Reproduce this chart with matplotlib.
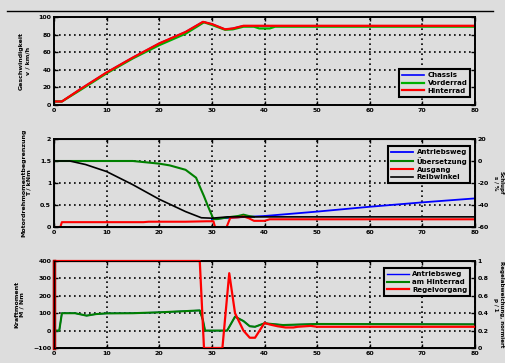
"""Simulation result: speed, engine torque limit and control torque over time."""
import matplotlib
matplotlib.use("Agg")
import matplotlib.pyplot as plt
from matplotlib.lines import Line2D

BG = "#dddddd"

# --- top panel: speed ---
t_speed_rear = [0, 1.5, 5, 10, 15, 20, 25, 28.3, 30, 32.5, 34, 36, 80]
speed_rear = [4, 4, 18, 37, 54, 70, 83, 94.5, 92, 86, 87, 90, 90]
t_speed_front = [0, 1.5, 5, 10, 15, 20, 25, 28.5, 30, 32.5, 34, 36, 38, 39, 41, 42, 80]
speed_front = [4, 4, 17, 36, 53, 68, 81, 94, 91, 85.5, 86, 89, 89, 87, 87, 89, 89]
speed_labels = ["Chassis", "Vorderrad", "Hinterrad"]

# --- middle panel: torque limit ---
t_black = [0, 3, 6, 10, 15, 20, 25, 28, 30, 33, 80]
v_black = [1.5, 1.5, 1.42, 1.26, 0.96, 0.63, 0.35, 0.21, 0.2, 0.23, 0.23]
t_green = [0, 15, 20, 22, 25, 27, 27.7, 28.5, 29.3, 30.3, 31, 33, 35, 36, 37, 38]
v_green = [1.5, 1.5, 1.44, 1.4, 1.3, 1.12, 0.92, 0.7, 0.46, 0.18, 0.18, 0.22, 0.25, 0.28, 0.25, 0.23]
t_blue = [30, 32, 35, 40, 50, 60, 70, 80]
v_blue = [0.18, 0.2, 0.22, 0.25, 0.35, 0.46, 0.56, 0.65]
t_red = [0, 1.2, 1.5, 10, 17, 18, 25, 29, 30.3, 30.6, 32.8, 33.5, 35, 36, 37, 38, 40, 41, 80]
v_red = [0, 0, 0.11, 0.11, 0.11, 0.12, 0.12, 0.13, 0.13, 0, 0, 0.21, 0.22, 0.24, 0.2, 0.14, 0.14, 0.175, 0.175]
torque_labels = ["Antriebsweg", "Übersetzung", "Ausgang", "Reibwinkel"]

# --- bottom panel: control torque ---
t_ctrl = [0, 0, 27.7, 28.5, 32.0, 33.3, 34.4, 36.0, 37.2, 38.2, 40, 41, 42.5, 44, 45.5, 46.3, 48.8, 50, 80]
v_ctrl = [-100, 400, 400, -100, -100, 330, 100, 0, -41, -41, 44, 35, 25, 18, 18, 22, 27, 22, 22]
t_wheel = [0, 1, 1.5, 4, 6.2, 8, 10, 15, 20, 25, 27.7, 28.3, 28.7, 32.9, 34.4, 36, 37.2, 38.2, 40, 43.5, 50, 80]
v_wheel = [0, 0, 100, 100, 86, 95, 99, 100, 105, 112, 116, 60, 0, 0, 80, 55, 25, 22, 42, 32, 38, 36]
ctrl_labels = ["Antriebsweg", "am Hinterrad", "Regelvorgang"]

x_ticks = list(range(0, 81, 10))

plt.rcParams["font.family"] = ["DejaVu Sans"]
plt.rcParams["font.weight"] = "bold"
plt.rcParams["font.size"] = 4.5

fig = plt.figure(figsize=(5.05, 3.63), dpi=100, facecolor=BG)
W, H = 505.0, 363.0


def make_axes(top, bottom):
    return fig.add_axes([54 / W, 1 - bottom / H, (475 - 54) / W, (bottom - top) / H])


def style(ax, both_sides=True):
    ax.set_facecolor(BG)
    ax.set_xlim(0, 80)
    ax.set_xticks(x_ticks)
    ax.grid(True, color="black", linestyle=(0, (1, 2)), linewidth=1.2)
    for s in ax.spines.values():
        s.set_linewidth(1.4)
    ax.tick_params(direction="in", length=3, width=1.0, pad=2,
                   top=True, right=both_sides, labelsize=4.5)
    for lab in ax.get_xticklabels() + ax.get_yticklabels():
        lab.set_fontweight("bold")


def legend(ax, handles, labels, loc, anchor):
    leg = ax.legend(handles, labels, loc=loc, bbox_to_anchor=anchor, fontsize=5,
                    fancybox=False, framealpha=1, facecolor=BG, edgecolor="black",
                    handlelength=3.2, borderpad=0.4, labelspacing=0.25, handletextpad=0.5)
    leg.get_frame().set_linewidth(1.5)
    for txt in leg.get_texts():
        txt.set_fontweight("bold")
    return leg


def right_axis(ax, ylim, ticks, ticklabels, label):
    axr = ax.twinx()
    axr.set_ylim(*ylim)
    axr.set_yticks(ticks)
    axr.set_yticklabels(ticklabels)
    axr.tick_params(direction="in", length=3, width=1.0, pad=2, labelsize=4.5)
    axr.set_ylabel(label, fontsize=4, fontweight="bold", rotation=270,
                   va="bottom", labelpad=3)
    for lab in axr.get_yticklabels():
        lab.set_fontweight("bold")
    return axr


# top
ax1 = make_axes(17, 105)
h1, = ax1.plot(t_speed_rear, speed_rear, color="#0000ff", lw=1.2)
h2, = ax1.plot(t_speed_front, speed_front, color="#00b000", lw=1.6)
h3, = ax1.plot(t_speed_rear, speed_rear, color="#ff0000", lw=1.6)
ax1.set_ylim(0, 100)
ax1.set_yticks(range(0, 101, 20))
style(ax1)
ax1.set_ylabel("Geschwindigkeit\nv / km/h", fontsize=4.5, fontweight="bold", labelpad=6)
legend(ax1, [h1, h2, h3], speed_labels, "lower right", (0.997, 0.057))

# middle
ax2 = make_axes(139, 227)
b1, = ax2.plot(t_blue, v_blue, color="#0000ff", lw=1.3)
g1, = ax2.plot(t_green, v_green, color="#008000", lw=1.5)
r1, = ax2.plot(t_red, v_red, color="#ff0000", lw=1.5)
k1, = ax2.plot(t_black, v_black, color="black", lw=1.2)
ax2.set_ylim(0, 2)
ax2.set_yticks([0, 0.5, 1, 1.5, 2])
ax2.set_yticklabels(["0", "0.5", "1", "1.5", "2"])
style(ax2, both_sides=False)
ax2.set_ylabel("Motordrehmomentbegrenzung\nT / kNm", fontsize=4.5, fontweight="bold", labelpad=6)
ax2r = right_axis(ax2, (-60, 20), [-60, -40, -20, 0, 20],
                  ["-60", "-40", "-20", "0", "20"], "Schlupf\ns / %")
legend(ax2r, [b1, g1, r1, k1], torque_labels, "upper right", (0.997, 0.955))

# bottom
ax3 = make_axes(261, 348)
bb, = ax3.plot(t_wheel, v_wheel, color="#0000ff", lw=1.0)
gg, = ax3.plot(t_wheel, v_wheel, color="#008000", lw=1.5)
rr, = ax3.plot(t_ctrl, v_ctrl, color="#ff0000", lw=1.6, clip_on=False, zorder=3)
ax3.plot([0, 0], [-100, 400], color="#b00000", lw=2.5, clip_on=False, zorder=3)
ax3.set_ylim(-100, 400)
ax3.set_yticks(range(-100, 401, 100))
style(ax3, both_sides=False)
ax3.set_ylabel("Kraftmoment\nM / Nm", fontsize=4.5, fontweight="bold", labelpad=6)
ax3r = right_axis(ax3, (0, 1), [0, 0.2, 0.4, 0.6, 0.8, 1],
                  ["0", "0.2", "0.4", "0.6", "0.8", "1"],
                  "Regelabweichung, normiert\np / 1")
legend(ax3r, [bb, gg, rr], ctrl_labels, "upper right", (0.997, 0.954))

# header rule
fig.add_artist(Line2D([7 / W, 493 / W], [1 - 11 / H, 1 - 11 / H], color="black", lw=1.0))

fig.savefig("out.png", dpi=100, facecolor=BG)
